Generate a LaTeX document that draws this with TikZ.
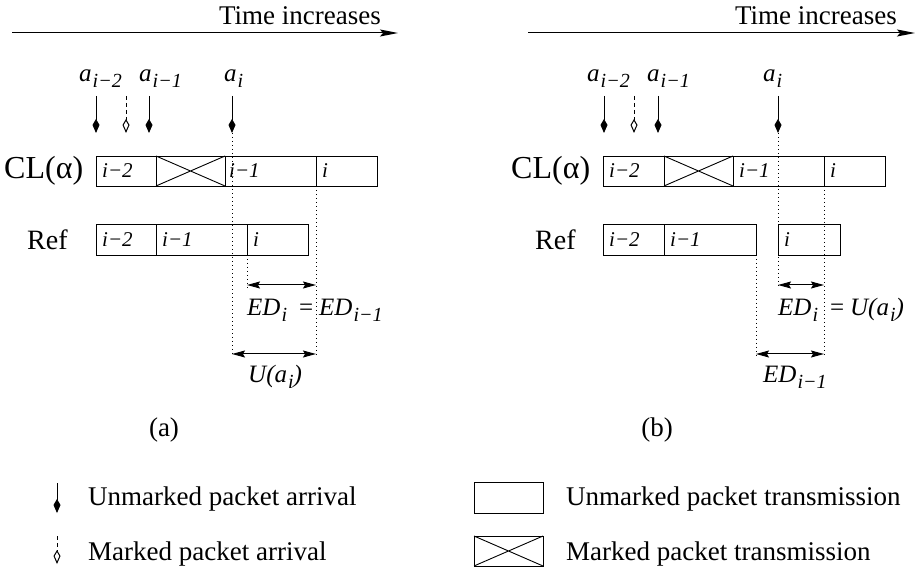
\documentclass[tikz,border=0pt]{standalone}
\usepackage{fontspec}
\setmainfont{Liberation Serif}
\usetikzlibrary{arrows.meta}

% lowered subscript in a smaller size
\newcommand\lowsub[1]{\raisebox{-6pt}{\fontsize{20}{20}\selectfont\kern1pt #1}}
% equals sign with the wide spacing of the span labels
\newcommand\speq{\kern12pt{\upshape=}\kern6pt}

\tikzset{
  pkt/.style={draw, line width=0.9pt},
  arrival/.style={line width=1pt, -{Kite[length=14pt,width=7pt,inset=6pt]}},
  markedarr/.style={line width=1pt, dash pattern=on 4pt off 3pt,
    -{Kite[open,length=14pt,width=7pt,inset=6pt,fill=white]}},
  guide/.style={line width=1pt, dash pattern=on 1pt off 3pt},
  span/.style={line width=1pt,
    {Stealth[length=13pt,width=7pt,inset=2pt]}-{Stealth[length=13pt,width=7pt,inset=2pt]}},
  timeaxis/.style={line width=1pt, -{Stealth[length=18pt,width=7pt,inset=3pt]}},
  txt/.style={font=\fontsize{27}{32}\selectfont, inner sep=0pt},
  rowname/.style={inner sep=0pt, anchor=west},
  lab/.style={font=\fontsize{25}{30}\selectfont\itshape, inner sep=0pt, anchor=base west},
  boxlab/.style={font=\fontsize{21}{24}\selectfont\itshape, inner sep=0pt, anchor=base west},
}

\begin{document}
\begin{tikzpicture}[x=1pt,y=-1pt]
\useasboundingbox (0,0) rectangle (916,569);

% ================= panel (a) =================
\coordinate (ta0) at (12,33);
\coordinate (ta1) at (398,33);
\draw[timeaxis] (ta0) -- (ta1);
\node[txt, anchor=base east] (tia) at (381,25) {Time increases};

% arrivals
\node[lab] (aa2) at (79,82) {a\lowsub{i−2}};
\node[lab] (aa1) at (139,82) {a\lowsub{i−1}};
\node[lab] (aa0) at (224,82) {a\lowsub{i}};
\coordinate (pa2t) at (96,96);   \coordinate (pa2b) at (96,133);
\coordinate (pmat) at (126,96);  \coordinate (pmab) at (126,133);
\coordinate (pa1t) at (149,96);  \coordinate (pa1b) at (149,133);
\coordinate (pa0t) at (232,96);  \coordinate (pa0b) at (232,133);
\draw[arrival] (pa2t) -- (pa2b);
\draw[markedarr] (pmat) -- (pmab);
\draw[arrival] (pa1t) -- (pa1b);
\draw[arrival] (pa0t) -- (pa0b);

% CL(alpha) row
\node[rowname, font=\fontsize{32}{36}\selectfont] (cla) at (4,171) {CL(α)};
\draw[pkt] (96,156) rectangle (156,186);
\draw[pkt] (156,156) rectangle (225,186);
\draw[line width=0.9pt] (156,156) -- (225,186) (156,186) -- (225,156);
\draw[pkt] (225,156) rectangle (316,186);
\draw[pkt] (316,156) rectangle (377,186);
\node[boxlab] (ca2) at (102,178) {i−2};
\node[boxlab] (ca1) at (229,178) {i−1};
\node[boxlab] (ca0) at (322,178) {i};

% Ref row
\node[rowname, font=\fontsize{28}{32}\selectfont] (refa) at (27,240) {Ref};
\draw[pkt] (96,224) rectangle (156,255);
\draw[pkt] (156,224) rectangle (247,255);
\draw[pkt] (247,224) rectangle (308,255);
\node[boxlab] (ra2) at (102,247) {i−2};
\node[boxlab] (ra1) at (162,247) {i−1};
\node[boxlab] (ra0) at (253,247) {i};

% guides and spans
\coordinate (ga1b) at (232,356);
\coordinate (ga2t) at (316,186); \coordinate (ga2b) at (316,356);
\coordinate (ga3t) at (247,255); \coordinate (ga3b) at (247,288);
\draw[guide] (pa0b) -- (ga1b);
\draw[guide] (ga2t) -- (ga2b);
\draw[guide] (ga3t) -- (ga3b);
\coordinate (eda0) at (247,285); \coordinate (eda1) at (316,285);
\coordinate (ua0) at (232,354);  \coordinate (ua1) at (316,354);
\draw[span] (eda0) -- (eda1);
\draw[span] (ua0) -- (ua1);
\node[lab] (edla) at (247,316) {ED\lowsub{i}\speq ED\lowsub{i−1}};
\node[lab] (ula) at (248,382) {U(a\lowsub{i})};

\node[txt] (capa) at (164,430) {(a)};

% ================= panel (b) =================
\coordinate (tb0) at (528,33);
\coordinate (tb1) at (915,33);
\draw[timeaxis] (tb0) -- (tb1);
\node[txt, anchor=base east] (tib) at (897,25) {Time increases};

\node[lab] (ba2) at (587,82) {a\lowsub{i−2}};
\node[lab] (ba1) at (647,82) {a\lowsub{i−1}};
\node[lab] (ba0) at (763,82) {a\lowsub{i}};
\coordinate (pb2t) at (604,96);  \coordinate (pb2b) at (604,133);
\coordinate (pmbt) at (634,96);  \coordinate (pmbb) at (634,133);
\coordinate (pb1t) at (658,96);  \coordinate (pb1b) at (658,133);
\coordinate (pb0t) at (778,96);  \coordinate (pb0b) at (778,133);
\draw[arrival] (pb2t) -- (pb2b);
\draw[markedarr] (pmbt) -- (pmbb);
\draw[arrival] (pb1t) -- (pb1b);
\draw[arrival] (pb0t) -- (pb0b);

\node[rowname, font=\fontsize{32}{36}\selectfont] (clb) at (511,171) {CL(α)};
\draw[pkt] (603,156) rectangle (664,186);
\draw[pkt] (664,156) rectangle (733,186);
\draw[line width=0.9pt] (664,156) -- (733,186) (664,186) -- (733,156);
\draw[pkt] (733,156) rectangle (824,186);
\draw[pkt] (824,156) rectangle (885,186);
\node[boxlab] (cb2) at (609,178) {i−2};
\node[boxlab] (cb1) at (739,178) {i−1};
\node[boxlab] (cb0) at (830,178) {i};

\node[rowname, font=\fontsize{28}{32}\selectfont] (refb) at (535,240) {Ref};
\draw[pkt] (603,224) rectangle (664,255);
\draw[pkt] (664,224) rectangle (756,255);
\draw[pkt] (778,224) rectangle (840,255);
\node[boxlab] (rb2) at (609,247) {i−2};
\node[boxlab] (rb1) at (670,247) {i−1};
\node[boxlab] (rb0) at (784,247) {i};

\coordinate (gb1b) at (778,288);
\coordinate (gb2t) at (824,186); \coordinate (gb2b) at (824,358);
\coordinate (gb3t) at (756,255); \coordinate (gb3b) at (756,358);
\draw[guide] (pb0b) -- (gb1b);
\draw[guide] (gb2t) -- (gb2b);
\draw[guide] (gb3t) -- (gb3b);
\coordinate (edb0) at (778,285); \coordinate (edb1) at (824,285);
\coordinate (edc0) at (756,354); \coordinate (edc1) at (824,354);
\draw[span] (edb0) -- (edb1);
\draw[span] (edc0) -- (edc1);
\node[lab] (edlb) at (778,316) {ED\lowsub{i}\speq U(a\lowsub{i})};
\node[lab] (edlc) at (763,382) {ED\lowsub{i−1}};

\node[txt] (capb) at (657,430) {(b)};

% ================= legend =================
\coordinate (lu0) at (57,483); \coordinate (lu1) at (57,513);
\coordinate (lm0) at (57,536); \coordinate (lm1) at (57,564);
\draw[arrival] (lu0) -- (lu1);
\draw[markedarr] (lm0) -- (lm1);
\node[txt, anchor=base west] (leg1) at (88,505) {Unmarked packet arrival};
\node[txt, anchor=base west] (leg2) at (88,560) {Marked packet arrival};
\draw[pkt] (474,482) rectangle (543,513);
\draw[pkt] (474,536) rectangle (543,566);
\draw[line width=0.9pt] (474,536) -- (543,566) (474,566) -- (543,536);
\node[txt, anchor=base west] (leg3) at (566,505) {Unmarked packet transmission};
\node[txt, anchor=base west] (leg4) at (566,560) {Marked packet transmission};
\end{tikzpicture}
\end{document}
